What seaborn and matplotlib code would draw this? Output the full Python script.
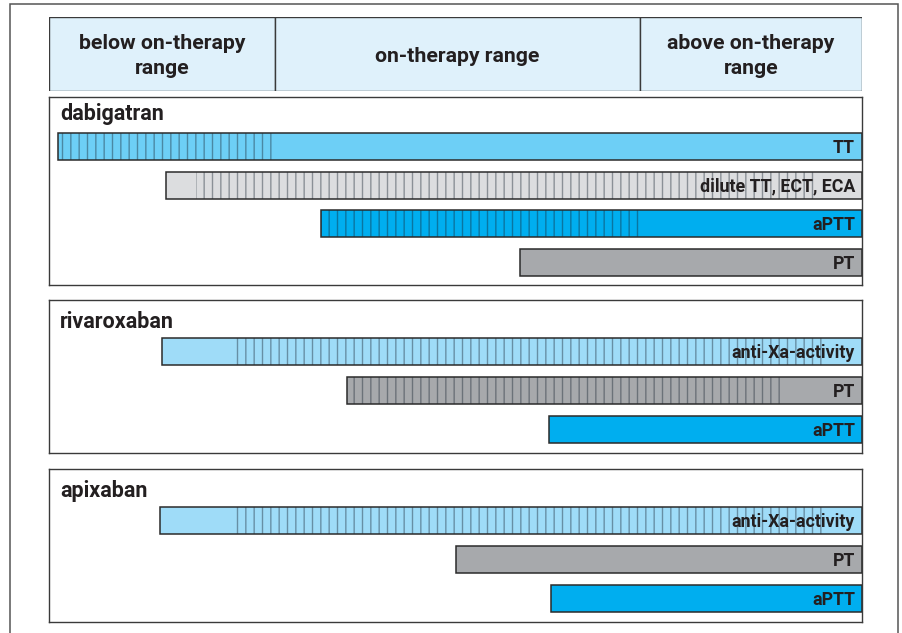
import matplotlib
matplotlib.use("Agg")
import matplotlib.pyplot as plt
from matplotlib.patches import Rectangle
import numpy as np
import seaborn as sns

# range header (x axis runs 0..100 over the width of the panels)
range_labels = ["below on-therapy\nrange", "on-therapy range", "above on-therapy\nrange"]
range_edges = [0, 27.8, 72.7, 100]

drugs = ["dabigatran", "rivaroxaban", "apixaban"]

dabigatran_tests = ["TT", "dilute TT, ECT, ECA", "aPTT", "PT"]
dabigatran_start = [1.1, 14.4, 33.5, 57.9]
dabigatran_hatch_from = [1.1, 18.1, 33.5, np.nan]
dabigatran_hatch_to = [28.0, 94.5, 72.7, np.nan]
dabigatran_end = [100, 100, 100, 100]

rivaroxaban_tests = ["anti-Xa-activity", "PT", "aPTT"]
rivaroxaban_start = [13.9, 36.7, 61.5]
rivaroxaban_hatch_from = [22.5, 36.7, np.nan]
rivaroxaban_hatch_to = [95.1, 90.3, np.nan]
rivaroxaban_end = [100, 100, 100]

apixaban_tests = ["anti-Xa-activity", "PT", "aPTT"]
apixaban_start = [13.7, 50.1, 61.7]
apixaban_hatch_from = [22.5, np.nan, np.nan]
apixaban_hatch_to = [95.1, np.nan, np.nan]
apixaban_end = [100, 100, 100]

# colours
test_colors = {
    "TT": "#6dcff6",
    "dilute TT, ECT, ECA": "#dcdddf",
    "aPTT": "#00aeef",
    "PT": "#a7a9ac",
    "anti-Xa-activity": "#9fdcf8",
}
header_color = "#dff1fb"
line_color = "#3a3a3a"
text_color = "#231f20"

sns.set_theme(style="white")
plt.rcParams["font.family"] = ["Roboto", "DejaVu Sans"]
plt.rcParams["hatch.linewidth"] = 1.0

fig = plt.figure(figsize=(9.03, 6.33), dpi=100)
W, H = 903, 633


def px_axes(x0, y0, x1, y1):
    return fig.add_axes([x0 / W, 1 - y1 / H, (x1 - x0) / W, (y1 - y0) / H])


# outer frame
fig.add_artist(Rectangle((10 / W, -0.05), 888 / W, 1.05 - 4 / H,
                         transform=fig.transFigure, fill=False,
                         edgecolor="#555555", linewidth=1.1))

# header
hax = px_axes(49, 17, 862, 91)
hax.barh(0, np.diff(range_edges), left=range_edges[:-1], height=1,
         color=header_color, edgecolor=line_color, linewidth=1.0)
for lab, a, b in zip(range_labels, range_edges[:-1], range_edges[1:]):
    hax.annotate(lab, xy=((a + b) / 2, 0), xytext=(0, -1.5),
                 textcoords="offset points", ha="center", va="center",
                 fontsize=15.3, fontweight="bold", color=text_color,
                 linespacing=1.42)
hax.set_xlim(0, 100)
hax.set_ylim(-0.5, 0.5)
hax.axis("off")


def draw_panel(ax, name, tests, start, hatch_from, hatch_to, end, ylim, title_y):
    y = np.arange(len(tests))
    widths = np.subtract(end, start)
    colors = [test_colors[t] for t in tests]
    ax.barh(y, widths, left=start, height=0.7, color=colors, edgecolor="none")
    for yi, h0, h1 in zip(y, hatch_from, hatch_to):
        if np.isnan(h0):
            continue
        ax.barh(yi, h1 - h0, left=h0, height=0.7, facecolor="none",
                edgecolor=(0.1, 0.15, 0.2, 0.42), hatch="||", linewidth=0)
    ax.barh(y, widths, left=start, height=0.7, facecolor="none",
            edgecolor="#2b2b2b", linewidth=1.1)
    for yi, t, e in zip(y, tests, end):
        ax.annotate(t, xy=(e, yi), xytext=(-5, -1), textcoords="offset points",
                    ha="right", va="center", fontsize=12.8, fontweight="bold",
                    color=text_color)
    ax.text(1.35, title_y, name, ha="left", va="center", fontsize=15.5,
            fontweight="bold", color=text_color)
    ax.set_xlim(0, 100)
    ax.set_ylim(*ylim)
    ax.set_xticks([])
    ax.set_yticks([])
    for s in ax.spines.values():
        s.set_visible(True)
        s.set_color(line_color)
        s.set_linewidth(1.0)


draw_panel(px_axes(49, 97, 862, 285), drugs[0], dabigatran_tests,
           dabigatran_start, dabigatran_hatch_from, dabigatran_hatch_to,
           dabigatran_end, (3.58, -1.28), -0.84)
draw_panel(px_axes(49, 300, 862, 453), drugs[1], rivaroxaban_tests,
           rivaroxaban_start, rivaroxaban_hatch_from, rivaroxaban_hatch_to,
           rivaroxaban_end, (2.61, -1.34), -0.77)
draw_panel(px_axes(49, 469, 862, 622), drugs[2], apixaban_tests,
           apixaban_start, apixaban_hatch_from, apixaban_hatch_to,
           apixaban_end, (2.61, -1.34), -0.77)

fig.savefig("out.png", dpi=100)
